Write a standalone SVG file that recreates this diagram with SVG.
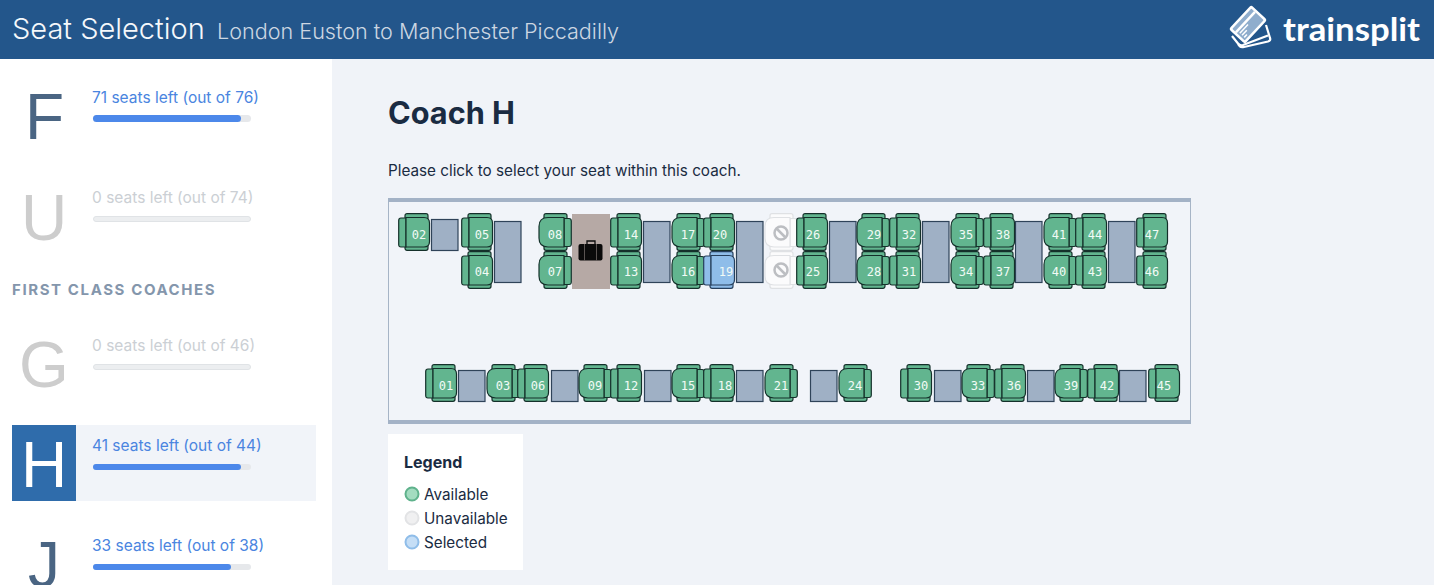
<svg xmlns="http://www.w3.org/2000/svg" xmlns:xlink="http://www.w3.org/1999/xlink" width="1434" height="585" viewBox="0 0 1434 585">
<style>
text{font-family:Inter,"Noto Sans","Liberation Sans",sans-serif}
.big{font-family:"Liberation Sans",Arial,sans-serif;font-size:64px;text-anchor:middle;fill:#4a6583}
.off{fill:#cdcdcd}
.lbl{font-size:15.500px;fill:#4a85e0}
.lbloff{font-size:15.500px;fill:#cbcfd4}
.track{fill:#e6e8eb}
.empty{fill:#eceef0;stroke:#e0e3e6;stroke-width:1}
.fill{fill:#4c88ea}
.tbl{fill:#9fb0c5;stroke:#2f4359;stroke-width:1.200}
.n{font-family:"DejaVu Sans Mono","Liberation Mono",monospace;font-size:12px;fill:#f2fbf6;text-anchor:middle}
.s{fill:#62b58f;stroke:#14302a;stroke-width:1.200;stroke-linejoin:round}
.sel{fill:#8fbde9;stroke:#263f5c;stroke-width:1.200;stroke-linejoin:round}
.blk{fill:#fbfbfc;stroke:#dfe1e4;stroke-width:1.200;stroke-linejoin:round}
.ink{font-size:15.250px;fill:#1a2b42}
</style>
<defs>
<g id="shape">
<rect x="7" y="0.700" width="23" height="6" rx="2"/>
<rect x="7" y="31.300" width="23" height="6" rx="2"/>
<path d="M3 5H8V34H3Q0.700 34 0.700 31.500V7.500Q0.700 5 3 5Z"/>
<path d="M8 4.500H26Q31.500 4.500 31.500 10V28.500Q31.500 34 26 34H8Z"/>
</g>
<g id="shapeR">
<rect x="5" y="0.700" width="23" height="6" rx="2"/>
<rect x="5" y="31.300" width="23" height="6" rx="2"/>
<path d="M3 5.500H8V33.500H3Q0.700 33.500 0.700 31V8Q0.700 5.500 3 5.500Z"/>
<path d="M8 4.500H24Q33 4.500 33 13.500V25Q33 34 24 34H8Z"/>
</g>
<g id="prohibit" fill="none" stroke="#bcbec2" stroke-width="2.500">
<circle cx="0" cy="0" r="6.500"/><path d="M-4.500-4.500L4.500 4.500"/>
</g>
</defs>
<rect width="1434" height="585" fill="#f0f3f8"/>
<g id="header">
<rect width="1434" height="59" fill="#23568b"/>
<text x="12" y="39" font-size="29" font-weight="300" fill="#f5f8fb">Seat Selection</text>
<text x="217" y="39" font-size="21.600" font-weight="300" fill="#ccd6e2">London Euston to Manchester Piccadilly</text>
</g>
<g id="logo">
<g fill="none" stroke="#fff" stroke-width="2.200" stroke-linejoin="round">
<path d="M1232 36L1238 43.500Q1240 46 1243 45L1268 35.500"/>
<path d="M1238 44L1240 46.500Q1241 47.500 1244 47L1268 41.500Q1271 40.500 1270 38L1266 25"/>
</g>
<g transform="translate(1248 24.500) rotate(-47)">
<rect x="-16.500" y="-11" width="33" height="22" rx="2.500" fill="#fff"/>
<rect x="-14" y="-8.500" width="28" height="17" rx="1" fill="#8fadcd"/>
<path d="M-14-3.500H14" stroke="#fff" stroke-width="2.500"/>
<path d="M-12 6H-8M-12 3H-5M-12 0H0" stroke="#fff" stroke-width="1.500"/>
</g>
<text x="1283" y="41" font-size="33" font-weight="700" fill="#fff" textLength="137" lengthAdjust="spacingAndGlyphs" style="font-family:Lato,Inter,sans-serif">trainsplit</text>
</g>
<g id="sidebar">
<rect width="332" height="526" y="59" fill="#fff"/>
<g id="coach-F">
<text class="big" x="44.500" y="139">F</text>
<text class="lbl" x="92" y="103">71 seats left (out of 76)</text>
<rect class="track" x="93" y="115" width="158" height="7" rx="3.500"/><rect class="fill" x="93" y="115" width="148" height="7" rx="3.500"/>
</g>
<g id="coach-U">
<text class="big off" x="44" y="240">U</text>
<text class="lbloff" x="92" y="203">0 seats left (out of 74)</text>
<rect class="empty" x="93.500" y="216.500" width="157" height="5" rx="2.500"/>
</g>
<text x="12" y="295" font-size="15" font-weight="700" fill="#8496ac" letter-spacing="1.600">FIRST CLASS COACHES</text>
<g id="coach-G">
<text class="big off" x="44" y="387">G</text>
<text class="lbloff" x="92" y="351">0 seats left (out of 46)</text>
<rect class="empty" x="93.500" y="364.500" width="157" height="5" rx="2.500"/>
</g>
<g id="coach-H">
<rect x="76" y="425" width="240" height="76" fill="#f1f4f9"/>
<rect x="12" y="425" width="64" height="76" fill="#2f6cab"/>
<text class="big" x="44" y="487" style="fill:#fff">H</text>
<text class="lbl" x="92" y="451">41 seats left (out of 44)</text>
<rect class="track" x="93" y="464" width="158" height="6" rx="3"/><rect class="fill" x="93" y="464" width="148" height="6" rx="3"/>
</g>
<g id="coach-J">
<text class="big" x="44" y="587">J</text>
<text class="lbl" x="92" y="551">33 seats left (out of 38)</text>
<rect class="track" x="93" y="564" width="158" height="6" rx="3"/><rect class="fill" x="93" y="564" width="138" height="6" rx="3"/>
</g>
</g>
<text x="388" y="124" font-size="30.700" font-weight="700" fill="#1a2b42">Coach H</text>
<text class="ink" x="388" y="176">Please click to select your seat within this coach.</text>
<g id="coach-frame">
<rect x="388.500" y="199" width="802" height="224" fill="#f1f4f9" stroke="#a6b4c6" stroke-width="1"/>
<rect x="388" y="198" width="803" height="4" fill="#a3b2c6"/>
<rect x="388" y="420" width="803" height="4" fill="#a3b2c6"/>
</g>
<g id="tables">
<rect class="tbl" x="431.500" y="219.500" width="26.500" height="31"/>
<rect class="tbl" x="494.500" y="221.500" width="26.500" height="61"/>
<rect class="tbl" x="643.500" y="221.500" width="26.500" height="61"/>
<rect class="tbl" x="736.500" y="221.500" width="26.500" height="61"/>
<rect class="tbl" x="829.500" y="221.500" width="26.500" height="61"/>
<rect class="tbl" x="922.500" y="221.500" width="26.500" height="61"/>
<rect class="tbl" x="1015.500" y="221.500" width="26.500" height="61"/>
<rect class="tbl" x="1108.500" y="221.500" width="26.500" height="61"/>
<rect class="tbl" x="458.500" y="370.500" width="26.500" height="31"/>
<rect class="tbl" x="551.500" y="370.500" width="26.500" height="31"/>
<rect class="tbl" x="644.500" y="370.500" width="26.500" height="31"/>
<rect class="tbl" x="736.500" y="370.500" width="26.500" height="31"/>
<rect class="tbl" x="810.500" y="370.500" width="26.500" height="31"/>
<rect class="tbl" x="934.500" y="370.500" width="26.500" height="31"/>
<rect class="tbl" x="1027.500" y="370.500" width="26.500" height="31"/>
<rect class="tbl" x="1119.500" y="370.500" width="26.500" height="31"/>
</g>
<g id="luggage">
<rect x="572" y="214" width="38" height="75" fill="#b6a9a5"/>
<rect x="578.500" y="244" width="24" height="16.500" rx="2" fill="#0a0a0a"/>
<path d="M587 244V241H595V244" fill="none" stroke="#0a0a0a" stroke-width="1.300"/>
<path d="M584.500 244V260.500M596.500 244V260.500" stroke="#6f6764" stroke-width="0.800"/>
</g>
<g id="seats">
<g id="seat-02"><use href="#shape" class="s" x="398" y="213"/><text class="n" x="419" y="239">02</text></g>
<g id="seat-05"><use href="#shape" class="s" x="461" y="213"/><text class="n" x="482" y="239">05</text></g>
<g id="seat-04"><use href="#shape" class="s" x="461" y="251"/><text class="n" x="482" y="276">04</text></g>
<g id="seat-08"><use href="#shapeR" class="s" transform="translate(572 213) scale(-1 1)"/><text class="n" x="555" y="239">08</text></g>
<g id="seat-07"><use href="#shapeR" class="s" transform="translate(572 251) scale(-1 1)"/><text class="n" x="555" y="276">07</text></g>
<g id="seat-14"><use href="#shape" class="s" x="610" y="213"/><text class="n" x="631" y="239">14</text></g>
<g id="seat-13"><use href="#shape" class="s" x="610" y="251"/><text class="n" x="631" y="276">13</text></g>
<g id="seat-17"><use href="#shapeR" class="s" transform="translate(705 213) scale(-1 1)"/><text class="n" x="688" y="239">17</text></g>
<g id="seat-16"><use href="#shapeR" class="s" transform="translate(705 251) scale(-1 1)"/><text class="n" x="688" y="276">16</text></g>
<g id="seat-20"><use href="#shape" class="s" x="703" y="213"/><text class="n" x="720" y="239">20</text></g>
<g id="seat-19"><use href="#shape" class="sel" x="703" y="251"/><text class="n" x="726" y="276">19</text></g>
<g id="seat-blocked-a"><use href="#shapeR" class="blk" transform="translate(798 213) scale(-1 1)"/><use href="#prohibit" x="781" y="233"/></g>
<g id="seat-blocked-b"><use href="#shapeR" class="blk" transform="translate(798 251) scale(-1 1)"/><use href="#prohibit" x="781" y="270"/></g>
<g id="seat-26"><use href="#shape" class="s" x="796" y="213"/><text class="n" x="813" y="239">26</text></g>
<g id="seat-25"><use href="#shape" class="s" x="796" y="251"/><text class="n" x="813" y="276">25</text></g>
<g id="seat-29"><use href="#shapeR" class="s" transform="translate(890 213) scale(-1 1)"/><text class="n" x="874" y="239">29</text></g>
<g id="seat-28"><use href="#shapeR" class="s" transform="translate(890 251) scale(-1 1)"/><text class="n" x="874" y="276">28</text></g>
<g id="seat-32"><use href="#shape" class="s" x="889" y="213"/><text class="n" x="909" y="239">32</text></g>
<g id="seat-31"><use href="#shape" class="s" x="889" y="251"/><text class="n" x="909" y="276">31</text></g>
<g id="seat-35"><use href="#shapeR" class="s" transform="translate(984 213) scale(-1 1)"/><text class="n" x="966" y="239">35</text></g>
<g id="seat-34"><use href="#shapeR" class="s" transform="translate(984 251) scale(-1 1)"/><text class="n" x="966" y="276">34</text></g>
<g id="seat-38"><use href="#shape" class="s" x="983" y="213"/><text class="n" x="1003" y="239">38</text></g>
<g id="seat-37"><use href="#shape" class="s" x="983" y="251"/><text class="n" x="1003" y="276">37</text></g>
<g id="seat-41"><use href="#shapeR" class="s" transform="translate(1077 213) scale(-1 1)"/><text class="n" x="1059" y="239">41</text></g>
<g id="seat-40"><use href="#shapeR" class="s" transform="translate(1077 251) scale(-1 1)"/><text class="n" x="1059" y="276">40</text></g>
<g id="seat-44"><use href="#shape" class="s" x="1075" y="213"/><text class="n" x="1095" y="239">44</text></g>
<g id="seat-43"><use href="#shape" class="s" x="1075" y="251"/><text class="n" x="1095" y="276">43</text></g>
<g id="seat-47"><use href="#shape" class="s" x="1136" y="213"/><text class="n" x="1152" y="239">47</text></g>
<g id="seat-46"><use href="#shape" class="s" x="1136" y="251"/><text class="n" x="1152" y="276">46</text></g>
<g id="seat-01"><use href="#shape" class="s" x="425" y="364"/><text class="n" x="446" y="390">01</text></g>
<g id="seat-03"><use href="#shapeR" class="s" transform="translate(520 364) scale(-1 1)"/><text class="n" x="503" y="390">03</text></g>
<g id="seat-06"><use href="#shape" class="s" x="517" y="364"/><text class="n" x="538" y="390">06</text></g>
<g id="seat-09"><use href="#shapeR" class="s" transform="translate(612 364) scale(-1 1)"/><text class="n" x="595" y="390">09</text></g>
<g id="seat-12"><use href="#shape" class="s" x="610" y="364"/><text class="n" x="631" y="390">12</text></g>
<g id="seat-15"><use href="#shapeR" class="s" transform="translate(705 364) scale(-1 1)"/><text class="n" x="688" y="390">15</text></g>
<g id="seat-18"><use href="#shape" class="s" x="703" y="364"/><text class="n" x="725" y="390">18</text></g>
<g id="seat-21"><use href="#shapeR" class="s" transform="translate(798 364) scale(-1 1)"/><text class="n" x="781" y="390">21</text></g>
<g id="seat-24"><use href="#shapeR" class="s" transform="translate(872 364) scale(-1 1)"/><text class="n" x="855" y="390">24</text></g>
<g id="seat-30"><use href="#shape" class="s" x="900" y="364"/><text class="n" x="921" y="390">30</text></g>
<g id="seat-33"><use href="#shapeR" class="s" transform="translate(995 364) scale(-1 1)"/><text class="n" x="978" y="390">33</text></g>
<g id="seat-36"><use href="#shape" class="s" x="994" y="364"/><text class="n" x="1014" y="390">36</text></g>
<g id="seat-39"><use href="#shapeR" class="s" transform="translate(1088 364) scale(-1 1)"/><text class="n" x="1071" y="390">39</text></g>
<g id="seat-42"><use href="#shape" class="s" x="1087" y="364"/><text class="n" x="1107" y="390">42</text></g>
<g id="seat-45"><use href="#shape" class="s" x="1148" y="364"/><text class="n" x="1164" y="390">45</text></g>
</g>
<g id="legend">
<rect x="388" y="434" width="135" height="136" fill="#fff"/>
<text x="404" y="468" font-size="16" font-weight="700" fill="#1a2b42">Legend</text>
<circle cx="412" cy="494" r="6.500" fill="#a3dcc0" stroke="#5fb28c" stroke-width="2"/>
<text class="ink" x="424" y="500">Available</text>
<circle cx="412" cy="518" r="6.500" fill="#f0f0f1" stroke="#e2e3e5" stroke-width="2"/>
<text class="ink" x="424" y="524">Unavailable</text>
<circle cx="412" cy="542" r="6.500" fill="#c5def6" stroke="#8fbde9" stroke-width="2"/>
<text class="ink" x="424" y="548">Selected</text>
</g>
</svg>
